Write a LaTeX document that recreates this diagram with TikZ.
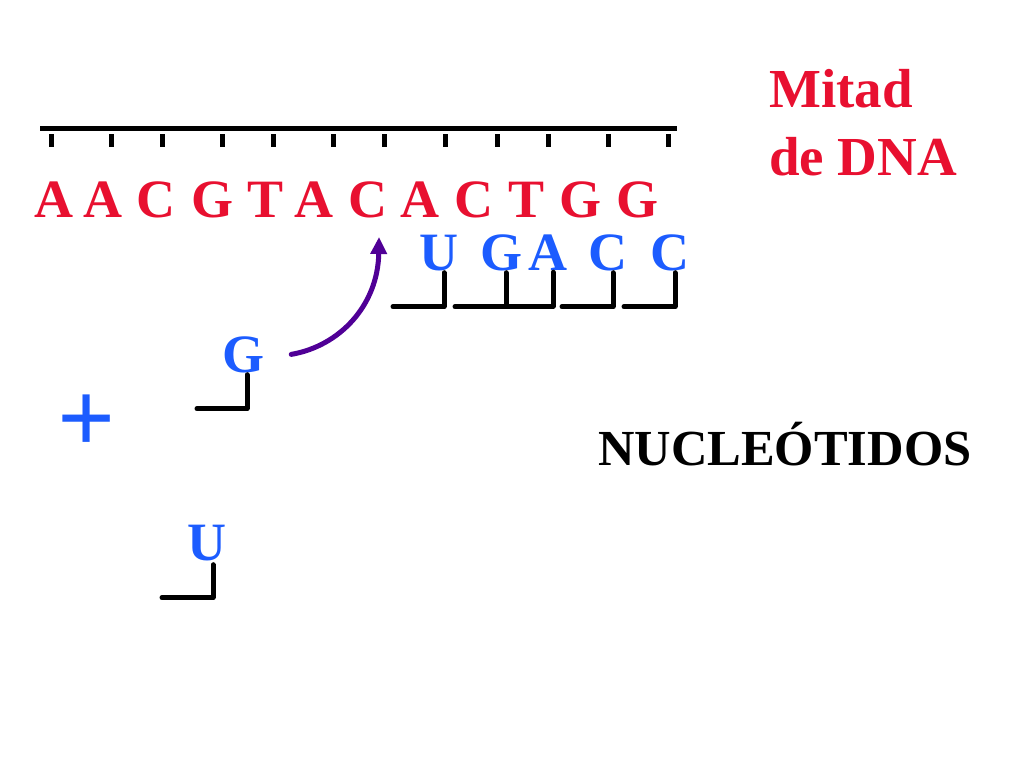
\documentclass[tikz,border=0pt]{standalone}
\usepackage{fontspec}
\setmainfont{Liberation Serif}
\usetikzlibrary{arrows.meta}
\definecolor{dnared}{RGB}{232,16,48}
\definecolor{rnablue}{RGB}{28,92,255}
\definecolor{arrowpurple}{RGB}{80,0,150}
\newcommand\baseletter{\fontsize{54}{54}\selectfont\bfseries}
\tikzset{
  dna/.style={anchor=base, inner sep=0pt, text=dnared, font=\baseletter},
  rna/.style={anchor=base, inner sep=0pt, text=rnablue, font=\baseletter},
  strand/.style={line width=5pt},
  bracket/.style={line width=5pt, line cap=round, line join=round}
}
\begin{document}
\begin{tikzpicture}[x=1pt, y=-1pt]
\useasboundingbox (0,0) rectangle (1024,768);
\draw[strand] (40,128) coordinate (l) -- (677,128) coordinate (r);
\foreach \x [count=\i] in {51,111,162,222,273,333,384,445,497,548,608,668}{
  \coordinate (t\i) at (\x,134);
  \draw[strand] (t\i) -- ++(0,13);
}
\foreach \x/\b [count=\i] in {54/A,103/A,156/C,212/G,266/T,314/A,368/C,420/A,474/C,527/T,580/G,637/G}{
  \node[dna] (d\i) at (\x,217) {\b};
}
\foreach \x/\b [count=\i] in {439/U,501/G,548/A,608/C,670/C}{
  \node[rna] (r\i) at (\x,270) {\b};
}
\foreach \i in {1,...,5}{
  \draw[bracket] ([xshift=5pt,yshift=-2pt]r\i.south) -- ++(0,34) -- ++(-51,0);
}
\node[rna] (g) at (243,372) {G};
\draw[bracket] ([xshift=4pt,yshift=-2pt]g.south) -- ++(0,34) -- ++(-50,0);
\node[rna] (u) at (207,560) {U};
\draw[bracket] ([xshift=6pt,yshift=-4pt]u.south) -- ++(0,33) -- ++(-51,0);
\node[anchor=center, inner sep=0pt, text=rnablue, font=\fontsize{102}{102}\selectfont\bfseries] (plus) at (87,424) {+};
\coordinate (tip) at (379,237);
\draw[arrowpurple, line width=5pt, line cap=round, -{Triangle[length=17pt,width=16pt]}] ([xshift=27pt]g.east) .. controls (340,346) and (378,305) .. (tip);
\node[anchor=base west, inner sep=0pt, text=dnared, font=\fontsize{55}{55}\selectfont\bfseries] (mitad) at (769,107) {Mitad};
\node[anchor=base west, inner sep=0pt, text=dnared, font=\fontsize{55}{55}\selectfont\bfseries] (dedna) at (769,175) {de DNA};
\node[anchor=base west, inner sep=0pt, font=\fontsize{50.5}{50.5}\selectfont\bfseries] (nucl) at (598,465) {NUCLEÓTIDOS};
\end{tikzpicture}
\end{document}
